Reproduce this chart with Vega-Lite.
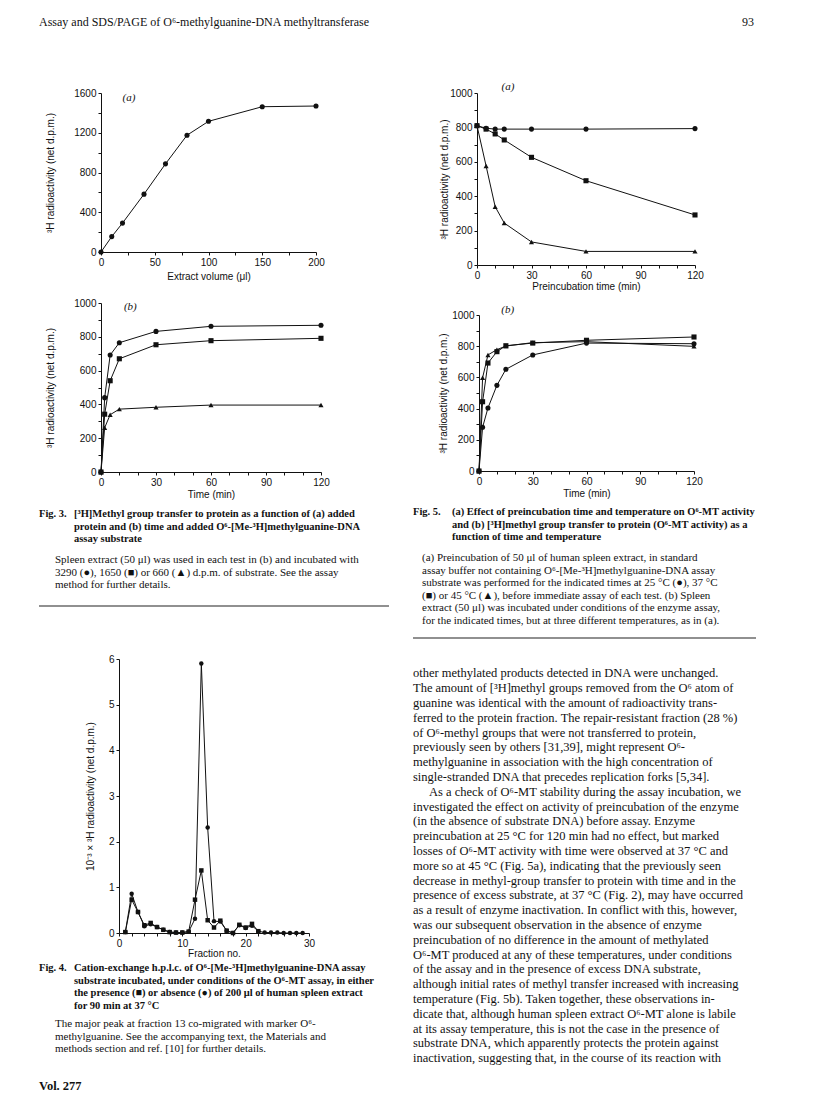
{
  "$schema": "https://vega.github.io/schema/vega-lite/v6.json",
  "background": "white",
  "padding": {"left": 38, "top": 15, "right": 0, "bottom": 0},
  "config": {
    "view": {"stroke": null},
    "concat": {"spacing": 0},
    "axis": {"domainColor": "#111", "tickColor": "#111", "labelColor": "#111", "titleColor": "#111", "labelFont": "Liberation Sans", "titleFont": "Liberation Sans", "labelFontSize": 10, "titleFontSize": 10, "titleFontWeight": "normal", "grid": false, "labelPadding": 2, "tickSize": 3, "labelOverlap": false, "labelFlush": false, "domainWidth": 1, "tickWidth": 1},
    "text": {"font": "Liberation Serif", "color": "#111", "align": "left", "baseline": "middle"},
    "line": {"color": "#111", "strokeWidth": 1},
    "point": {"color": "#111", "filled": true, "opacity": 1, "size": 26}
  },
  "resolve": {"scale": {"shape": "independent"}},
  "bounds": "full", "align": "none", "spacing": 0,
  "vconcat": [
    {"width": 715, "height": 14,
     "data": {"values": [{"l": "Assay and SDS/PAGE of O⁶-methylguanine-DNA methyltransferase", "r": "93"}]},
     "layer": [
       {"mark": {"type": "text", "fontSize": 12}, "encoding": {"x": {"value": 0}, "text": {"field": "l", "type": "nominal"}}},
       {"mark": {"type": "text", "fontSize": 12, "align": "right"}, "encoding": {"x": {"value": "width"}, "text": {"field": "r", "type": "nominal"}}}
     ]},
    {"width": 1, "height": 51, "data": {"values": []}, "mark": "point"},
    {"hconcat": [
      {"vconcat": [
        {"hconcat": [
          {"width": 6, "height": 1, "data": {"values": []}, "mark": "point"},
          {"width": 215, "height": 159,
           "resolve": {"axis": {"x": "independent", "y": "independent"}},
           "layer": [
             {"data": {"values": [{"v":0,"r":0},{"v":10,"r":155},{"v":20,"r":291},{"v":40,"r":582},{"v":60,"r":887},{"v":80,"r":1175},{"v":100,"r":1315},{"v":150,"r":1462},{"v":200,"r":1469}]},
              "encoding": {
                "x": {"field": "v", "type": "quantitative", "scale": {"domain": [0, 200], "nice": false},
                      "axis": {"title": "Extract volume (μl)", "orient": "bottom", "values": [0,25,50,75,100,125,150,175,200], "labelExpr": "datum.value % 50 === 0 ? datum.label : ''", "format": "d", "titlePadding": 4}},
                "y": {"field": "r", "type": "quantitative", "scale": {"domain": [0, 1600], "nice": false},
                      "axis": {"title": "³H radioactivity (net d.p.m.)", "orient": "left", "values": [0,200,400,600,800,1000,1200,1400,1600], "labelExpr": "datum.value % 400 === 0 ? datum.label : ''", "format": "d", "titlePadding": 18}}
              },
              "layer": [{"mark": "line"}, {"mark": "point"}]},
             {"data": {"values": [{"lab": "(a)"}]}, "mark": {"type": "text", "align": "center", "fontStyle": "italic", "fontSize": 11},
              "encoding": {"x": {"datum": 26, "type": "quantitative", "axis": null}, "y": {"datum": 1550, "type": "quantitative", "axis": null}, "text": {"field": "lab", "type": "nominal"}}}
           ]}
        ], "bounds": "full", "align": "none", "spacing": 0},
        {"width": 1, "height": 17, "data": {"values": []}, "mark": "point"},
        {"hconcat": [
          {"width": 6, "height": 1, "data": {"values": []}, "mark": "point"},
          {"width": 220, "height": 169,
           "resolve": {"axis": {"x": "independent", "y": "independent"}},
           "layer": [
             {"data": {"values": [
                {"t":0,"s":"3290","r":0},{"t":2,"s":"3290","r":440},{"t":5,"s":"3290","r":692},{"t":10,"s":"3290","r":765},{"t":30,"s":"3290","r":832},{"t":60,"s":"3290","r":862},{"t":120,"s":"3290","r":868},
                {"t":0,"s":"1650","r":0},{"t":2,"s":"1650","r":342},{"t":5,"s":"1650","r":540},{"t":10,"s":"1650","r":670},{"t":30,"s":"1650","r":753},{"t":60,"s":"1650","r":777},{"t":120,"s":"1650","r":791},
                {"t":0,"s":"660","r":0},{"t":2,"s":"660","r":262},{"t":5,"s":"660","r":339},{"t":10,"s":"660","r":372},{"t":30,"s":"660","r":383},{"t":60,"s":"660","r":396},{"t":120,"s":"660","r":396}
              ]},
              "encoding": {
                "x": {"field": "t", "type": "quantitative", "scale": {"domain": [0, 120], "nice": false},
                      "axis": {"title": "Time (min)", "orient": "bottom", "values": [0,10,20,30,40,50,60,70,80,90,100,110,120], "labelExpr": "datum.value % 30 === 0 ? datum.label : ''", "format": "d", "titlePadding": 2}},
                "y": {"field": "r", "type": "quantitative", "scale": {"domain": [0, 1000], "nice": false},
                      "axis": {"title": "³H radioactivity (net d.p.m.)", "orient": "left", "values": [0,100,200,300,400,500,600,700,800,900,1000], "labelExpr": "datum.value % 200 === 0 ? datum.label : ''", "format": "d", "titlePadding": 18}}
              },
              "layer": [
                {"mark": "line", "encoding": {"detail": {"field": "s"}}},
                {"mark": "point", "encoding": {"shape": {"field": "s", "type": "nominal", "scale": {"domain": ["3290","1650","660"], "range": ["circle","square","triangle-up"]}, "legend": null}}}
              ]},
             {"data": {"values": [{"lab": "(b)"}]}, "mark": {"type": "text", "align": "center", "fontStyle": "italic", "fontSize": 11},
              "encoding": {"x": {"datum": 16, "type": "quantitative", "axis": null}, "y": {"datum": 975, "type": "quantitative", "axis": null}, "text": {"field": "lab", "type": "nominal"}}}
           ]}
        ], "bounds": "full", "align": "none", "spacing": 0},
        {"width": 1, "height": 9, "data": {"values": []}, "mark": "point"},
        {"width": 350, "height": 37.5,
         "data": {"values": [
           {"i":1,"lab":"Fig. 3.","t":"[³H]Methyl group transfer to protein as a function of (a) added"},
           {"i":2,"t":"protein and (b) time and added O⁶-[Me-³H]methylguanine-DNA"},
           {"i":3,"t":"assay substrate"}
         ]},
         "encoding": {"y": {"field": "i", "type": "ordinal", "axis": null}},
         "layer": [
           {"transform": [{"filter": "datum.lab"}], "mark": {"type": "text", "fontSize": 10.5, "fontWeight": "bold"}, "encoding": {"x": {"value": 0}, "text": {"field": "lab", "type": "nominal"}}},
           {"mark": {"type": "text", "fontSize": 10.5, "fontWeight": "bold", "dx": 35}, "encoding": {"x": {"value": 0}, "text": {"field": "t", "type": "nominal"}}}
         ]},
        {"width": 1, "height": 7.5, "data": {"values": []}, "mark": "point"},
        {"width": 350, "height": 37.5,
         "data": {"values": [
           {"i":1,"t":"Spleen extract (50 μl) was used in each test in (b) and incubated with"},
           {"i":2,"t":"3290 (●), 1650 (■) or 660 (▲) d.p.m. of substrate. See the assay"},
           {"i":3,"t":"method for further details."}
         ]},
         "mark": {"type": "text", "fontSize": 11, "dx": 16},
         "encoding": {"x": {"value": 0}, "y": {"field": "i", "type": "ordinal", "axis": null}, "text": {"field": "t", "type": "nominal"}}},
        {"width": 1, "height": 13, "data": {"values": []}, "mark": "point"},
        {"width": 350, "height": 2, "data": {"values": [{}]}, "mark": {"type": "rule", "color": "#222", "strokeWidth": 1.2}, "encoding": {"y": {"value": 1}}},
        {"width": 1, "height": 46.5, "data": {"values": []}, "mark": "point"},
        {"hconcat": [
          {"width": 46, "height": 1, "data": {"values": []}, "mark": "point"},
          {"width": 190, "height": 274,
           "data": {"values": [
             {"f":1,"s":"absence","r":0.02},{"f":2,"s":"absence","r":0.86},{"f":3,"s":"absence","r":0.46},{"f":4,"s":"absence","r":0.15},{"f":5,"s":"absence","r":0.19},{"f":6,"s":"absence","r":0.13},{"f":7,"s":"absence","r":0.07},{"f":8,"s":"absence","r":0.02},{"f":9,"s":"absence","r":0.01},{"f":10,"s":"absence","r":0.01},
             {"f":11,"s":"absence","r":0.03},{"f":12,"s":"absence","r":0.31},{"f":13,"s":"absence","r":5.9},{"f":14,"s":"absence","r":2.31},{"f":15,"s":"absence","r":0.26},{"f":16,"s":"absence","r":0.25},{"f":17,"s":"absence","r":0.05},{"f":18,"s":"absence","r":0.0},{"f":19,"s":"absence","r":0.17},{"f":20,"s":"absence","r":0.11},
             {"f":21,"s":"absence","r":0.16},{"f":22,"s":"absence","r":0.04},{"f":23,"s":"absence","r":0.01},{"f":24,"s":"absence","r":0.01},{"f":25,"s":"absence","r":0.01},{"f":26,"s":"absence","r":0.0},{"f":27,"s":"absence","r":0.0},{"f":28,"s":"absence","r":0.0},{"f":29,"s":"absence","r":0.0},
             {"f":1,"s":"presence","r":0.02},{"f":2,"s":"presence","r":0.73},{"f":3,"s":"presence","r":0.46},{"f":4,"s":"presence","r":0.17},{"f":5,"s":"presence","r":0.22},{"f":6,"s":"presence","r":0.13},{"f":7,"s":"presence","r":0.07},{"f":8,"s":"presence","r":0.02},{"f":9,"s":"presence","r":0.01},{"f":10,"s":"presence","r":0.01},
             {"f":11,"s":"presence","r":0.03},{"f":12,"s":"presence","r":0.73},{"f":13,"s":"presence","r":1.37},{"f":14,"s":"presence","r":0.28},{"f":15,"s":"presence","r":0.12},{"f":16,"s":"presence","r":0.27},{"f":17,"s":"presence","r":0.05},{"f":18,"s":"presence","r":0.0},{"f":19,"s":"presence","r":0.18},{"f":20,"s":"presence","r":0.12},
             {"f":21,"s":"presence","r":0.2},{"f":22,"s":"presence","r":0.04}
           ]},
           "encoding": {
             "x": {"field": "f", "type": "quantitative", "scale": {"domain": [0, 30], "nice": false},
                   "axis": {"title": "Fraction no.", "values": [0,2,4,6,8,10,12,14,16,18,20,22,24,26,28,30], "labelExpr": "datum.value % 10 === 0 ? datum.label : ''", "format": "d", "titlePadding": 0}},
             "y": {"field": "r", "type": "quantitative", "scale": {"domain": [0, 6], "nice": false},
                   "axis": {"title": "10⁻³ × ³H radioactivity (net d.p.m.)", "values": [0,0.5,1,1.5,2,2.5,3,3.5,4,4.5,5,5.5,6], "labelExpr": "datum.value % 1 === 0 ? datum.label : ''", "format": "d", "titlePadding": 13}}
           },
           "layer": [
             {"mark": "line", "encoding": {"detail": {"field": "s"}}},
             {"mark": {"type": "point", "size": 20}, "encoding": {"shape": {"field": "s", "type": "nominal", "scale": {"domain": ["absence","presence"], "range": ["circle","square"]}, "legend": null}}}
           ]}
        ], "bounds": "full", "align": "none", "spacing": 0},
        {"width": 1, "height": 4, "data": {"values": []}, "mark": "point"},
        {"width": 350, "height": 50,
         "data": {"values": [
           {"i":1,"lab":"Fig. 4.","t":"Cation-exchange h.p.l.c. of O⁶-[Me-³H]methylguanine-DNA assay"},
           {"i":2,"t":"substrate incubated, under conditions of the O⁶-MT assay, in either"},
           {"i":3,"t":"the presence (■) or absence (●) of 200 μl of human spleen extract"},
           {"i":4,"t":"for 90 min at 37 °C"}
         ]},
         "encoding": {"y": {"field": "i", "type": "ordinal", "axis": null}},
         "layer": [
           {"transform": [{"filter": "datum.lab"}], "mark": {"type": "text", "fontSize": 10.5, "fontWeight": "bold"}, "encoding": {"x": {"value": 0}, "text": {"field": "lab", "type": "nominal"}}},
           {"mark": {"type": "text", "fontSize": 10.5, "fontWeight": "bold", "dx": 35}, "encoding": {"x": {"value": 0}, "text": {"field": "t", "type": "nominal"}}}
         ]},
        {"width": 1, "height": 6, "data": {"values": []}, "mark": "point"},
        {"width": 350, "height": 37.5,
         "data": {"values": [
           {"i":1,"t":"The major peak at fraction 13 co-migrated with marker O⁶-"},
           {"i":2,"t":"methylguanine. See the accompanying text, the Materials and"},
           {"i":3,"t":"methods section and ref. [10] for further details."}
         ]},
         "mark": {"type": "text", "fontSize": 11, "dx": 16},
         "encoding": {"x": {"value": 0}, "y": {"field": "i", "type": "ordinal", "axis": null}, "text": {"field": "t", "type": "nominal"}}},
        {"width": 1, "height": 23, "data": {"values": []}, "mark": "point"},
        {"width": 100, "height": 13, "data": {"values": [{"t": "Vol. 277"}]}, "mark": {"type": "text", "fontSize": 12.5, "fontWeight": "bold"}, "encoding": {"x": {"value": 0}, "text": {"field": "t", "type": "nominal"}}}
      ], "resolve": {"scale": {"shape": "independent"}}, "bounds": "full", "align": "none", "spacing": 0},
      {"vconcat": [
        {"hconcat": [
          {"width": 26, "height": 1, "data": {"values": []}, "mark": "point"},
          {"width": 218, "height": 172,
           "resolve": {"axis": {"x": "independent", "y": "independent"}},
           "layer": [
             {"data": {"values": [
                {"t":0,"T":"25 °C","r":810},{"t":5,"T":"25 °C","r":795},{"t":10,"T":"25 °C","r":790},{"t":15,"T":"25 °C","r":790},{"t":30,"T":"25 °C","r":790},{"t":60,"T":"25 °C","r":790},{"t":120,"T":"25 °C","r":793},
                {"t":0,"T":"37 °C","r":810},{"t":5,"T":"37 °C","r":790},{"t":10,"T":"37 °C","r":762},{"t":15,"T":"37 °C","r":727},{"t":30,"T":"37 °C","r":626},{"t":60,"T":"37 °C","r":490},{"t":120,"T":"37 °C","r":291},
                {"t":0,"T":"45 °C","r":810},{"t":5,"T":"45 °C","r":576},{"t":10,"T":"45 °C","r":339},{"t":15,"T":"45 °C","r":244},{"t":30,"T":"45 °C","r":134},{"t":60,"T":"45 °C","r":79},{"t":120,"T":"45 °C","r":79}
              ]},
              "encoding": {
                "x": {"field": "t", "type": "quantitative", "scale": {"domain": [0, 120], "nice": false},
                      "axis": {"title": "Preincubation time (min)", "orient": "bottom", "values": [0,10,20,30,40,50,60,70,80,90,100,110,120], "labelExpr": "datum.value % 30 === 0 ? datum.label : ''", "format": "d", "titlePadding": 1}},
                "y": {"field": "r", "type": "quantitative", "scale": {"domain": [0, 1000], "nice": false},
                      "axis": {"title": "³H radioactivity (net d.p.m.)", "orient": "left", "values": [0,100,200,300,400,500,600,700,800,900,1000], "labelExpr": "datum.value % 200 === 0 ? datum.label : ''", "format": "d", "titlePadding": 0}}
              },
              "layer": [
                {"mark": "line", "encoding": {"detail": {"field": "T"}}},
                {"mark": "point", "encoding": {"shape": {"field": "T", "type": "nominal", "scale": {"domain": ["25 °C","37 °C","45 °C"], "range": ["circle","square","triangle-up"]}, "legend": null}}}
              ]},
             {"data": {"values": [{"lab": "(a)"}]}, "mark": {"type": "text", "align": "center", "fontStyle": "italic", "fontSize": 11},
              "encoding": {"x": {"datum": 17, "type": "quantitative", "axis": null}, "y": {"datum": 1035, "type": "quantitative", "axis": null}, "text": {"field": "lab", "type": "nominal"}}}
           ]}
        ], "bounds": "full", "align": "none", "spacing": 0},
        {"width": 1, "height": 13, "data": {"values": []}, "mark": "point"},
        {"hconcat": [
          {"width": 25, "height": 1, "data": {"values": []}, "mark": "point"},
          {"width": 215, "height": 156,
           "resolve": {"axis": {"x": "independent", "y": "independent"}},
           "layer": [
             {"data": {"values": [
                {"t":0,"T":"25 °C","r":0},{"t":2,"T":"25 °C","r":280},{"t":5,"T":"25 °C","r":404},{"t":10,"T":"25 °C","r":549},{"t":15,"T":"25 °C","r":652},{"t":30,"T":"25 °C","r":744},{"t":60,"T":"25 °C","r":820},{"t":120,"T":"25 °C","r":816},
                {"t":0,"T":"37 °C","r":0},{"t":2,"T":"37 °C","r":444},{"t":5,"T":"37 °C","r":692},{"t":10,"T":"37 °C","r":765},{"t":15,"T":"37 °C","r":803},{"t":30,"T":"37 °C","r":820},{"t":60,"T":"37 °C","r":838},{"t":120,"T":"37 °C","r":859},
                {"t":0,"T":"45 °C","r":0},{"t":2,"T":"45 °C","r":598},{"t":5,"T":"45 °C","r":744},{"t":10,"T":"45 °C","r":778},{"t":15,"T":"45 °C","r":801},{"t":30,"T":"45 °C","r":823},{"t":60,"T":"45 °C","r":829},{"t":120,"T":"45 °C","r":799}
              ]},
              "encoding": {
                "x": {"field": "t", "type": "quantitative", "scale": {"domain": [0, 120], "nice": false},
                      "axis": {"title": "Time (min)", "orient": "bottom", "values": [0,10,20,30,40,50,60,70,80,90,100,110,120], "labelExpr": "datum.value % 30 === 0 ? datum.label : ''", "format": "d", "titlePadding": 2}},
                "y": {"field": "r", "type": "quantitative", "scale": {"domain": [0, 1000], "nice": false},
                      "axis": {"title": "³H radioactivity (net d.p.m.)", "orient": "left", "values": [0,100,200,300,400,500,600,700,800,900,1000], "labelExpr": "datum.value % 200 === 0 ? datum.label : ''", "format": "d", "titlePadding": 3}}
              },
              "layer": [
                {"mark": "line", "encoding": {"detail": {"field": "T"}}},
                {"mark": "point", "encoding": {"shape": {"field": "T", "type": "nominal", "scale": {"domain": ["25 °C","37 °C","45 °C"], "range": ["circle","square","triangle-up"]}, "legend": null}}}
              ]},
             {"data": {"values": [{"lab": "(b)"}]}, "mark": {"type": "text", "align": "center", "fontStyle": "italic", "fontSize": 11},
              "encoding": {"x": {"datum": 16, "type": "quantitative", "axis": null}, "y": {"datum": 1032, "type": "quantitative", "axis": null}, "text": {"field": "lab", "type": "nominal"}}}
           ]}
        ], "bounds": "full", "align": "none", "spacing": 0},
        {"width": 1, "height": 8, "data": {"values": []}, "mark": "point"},
        {"width": 343, "height": 37.5,
         "data": {"values": [
           {"i":1,"lab":"Fig. 5.","t":"(a) Effect of preincubation time and temperature on O⁶-MT activity"},
           {"i":2,"t":"and (b) [³H]methyl group transfer to protein (O⁶-MT activity) as a"},
           {"i":3,"t":"function of time and temperature"}
         ]},
         "encoding": {"y": {"field": "i", "type": "ordinal", "axis": null}},
         "layer": [
           {"transform": [{"filter": "datum.lab"}], "mark": {"type": "text", "fontSize": 10.5, "fontWeight": "bold"}, "encoding": {"x": {"value": 0}, "text": {"field": "lab", "type": "nominal"}}},
           {"mark": {"type": "text", "fontSize": 10.5, "fontWeight": "bold", "dx": 39}, "encoding": {"x": {"value": 0}, "text": {"field": "t", "type": "nominal"}}}
         ]},
        {"width": 1, "height": 8, "data": {"values": []}, "mark": "point"},
        {"width": 343, "height": 75,
         "data": {"values": [
           {"i":1,"t":"(a) Preincubation of 50 μl of human spleen extract, in standard"},
           {"i":2,"t":"assay buffer not containing O⁶-[Me-³H]methylguanine-DNA assay"},
           {"i":3,"t":"substrate was performed for the indicated times at 25 °C (●), 37 °C"},
           {"i":4,"t":"(■) or 45 °C (▲), before immediate assay of each test. (b) Spleen"},
           {"i":5,"t":"extract (50 μl) was incubated under conditions of the enzyme assay,"},
           {"i":6,"t":"for the indicated times, but at three different temperatures, as in (a)."}
         ]},
         "mark": {"type": "text", "fontSize": 11, "dx": 9},
         "encoding": {"x": {"value": 0}, "y": {"field": "i", "type": "ordinal", "axis": null}, "text": {"field": "t", "type": "nominal"}}},
        {"width": 1, "height": 10, "data": {"values": []}, "mark": "point"},
        {"width": 343, "height": 2, "data": {"values": [{}]}, "mark": {"type": "rule", "color": "#222", "strokeWidth": 1.2}, "encoding": {"y": {"value": 1}}},
        {"width": 1, "height": 27, "data": {"values": []}, "mark": "point"},
        {"width": 343, "height": 399.6,
         "data": {"values": [
           {"i":1,"t":"other methylated products detected in DNA were unchanged."},
           {"i":2,"t":"The amount of [³H]methyl groups removed from the O⁶ atom of"},
           {"i":3,"t":"guanine was identical with the amount of radioactivity trans-"},
           {"i":4,"t":"ferred to the protein fraction. The repair-resistant fraction (28 %)"},
           {"i":5,"t":"of O⁶-methyl groups that were not transferred to protein,"},
           {"i":6,"t":"previously seen by others [31,39], might represent O⁶-"},
           {"i":7,"t":"methylguanine in association with the high concentration of"},
           {"i":8,"t":"single-stranded DNA that precedes replication forks [5,34]."},
           {"i":9,"t":"As a check of O⁶-MT stability during the assay incubation, we"},
           {"i":10,"t":"investigated the effect on activity of preincubation of the enzyme"},
           {"i":11,"t":"(in the absence of substrate DNA) before assay. Enzyme"},
           {"i":12,"t":"preincubation at 25 °C for 120 min had no effect, but marked"},
           {"i":13,"t":"losses of O⁶-MT activity with time were observed at 37 °C and"},
           {"i":14,"t":"more so at 45 °C (Fig. 5a), indicating that the previously seen"},
           {"i":15,"t":"decrease in methyl-group transfer to protein with time and in the"},
           {"i":16,"t":"presence of excess substrate, at 37 °C (Fig. 2), may have occurred"},
           {"i":17,"t":"as a result of enzyme inactivation. In conflict with this, however,"},
           {"i":18,"t":"was our subsequent observation in the absence of enzyme"},
           {"i":19,"t":"preincubation of no difference in the amount of methylated"},
           {"i":20,"t":"O⁶-MT produced at any of these temperatures, under conditions"},
           {"i":21,"t":"of the assay and in the presence of excess DNA substrate,"},
           {"i":22,"t":"although initial rates of methyl transfer increased with increasing"},
           {"i":23,"t":"temperature (Fig. 5b). Taken together, these observations in-"},
           {"i":24,"t":"dicate that, although human spleen extract O⁶-MT alone is labile"},
           {"i":25,"t":"at its assay temperature, this is not the case in the presence of"},
           {"i":26,"t":"substrate DNA, which apparently protects the protein against"},
           {"i":27,"t":"inactivation, suggesting that, in the course of its reaction with"}
         ]},
         "encoding": {"y": {"field": "i", "type": "ordinal", "axis": null}, "text": {"field": "t", "type": "nominal"}},
         "layer": [
           {"transform": [{"filter": "datum.i !== 9"}], "mark": {"type": "text", "fontSize": 12.5}, "encoding": {"x": {"value": 0}}},
           {"transform": [{"filter": "datum.i === 9"}], "mark": {"type": "text", "fontSize": 12.5, "dx": 16}, "encoding": {"x": {"value": 0}}}
         ]}
      ], "resolve": {"scale": {"shape": "independent"}}, "bounds": "full", "align": "none", "spacing": 0}
    ], "resolve": {"scale": {"shape": "independent"}}, "bounds": "full", "align": "none", "spacing": 22}
  ]
}
